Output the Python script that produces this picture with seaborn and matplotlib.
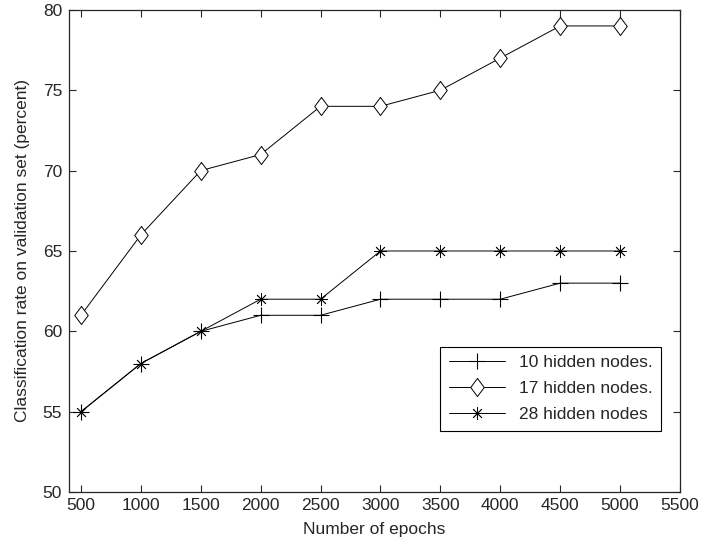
import matplotlib
matplotlib.use("Agg")
import matplotlib.pyplot as plt
import seaborn as sns
import pandas as pd

# Data
epochs = [500, 1000, 1500, 2000, 2500, 3000, 3500, 4000, 4500, 5000]
nodes_10 = [55, 58, 60, 61, 61, 62, 62, 62, 63, 63]
nodes_17 = [61, 66, 70, 71, 74, 74, 75, 77, 79, 79]
nodes_28 = [55, 58, 60, 62, 62, 65, 65, 65, 65, 65]
labels = ["10 hidden nodes.", "17 hidden nodes.", "28 hidden nodes"]
x_ticks = [500, 1000, 1500, 2000, 2500, 3000, 3500, 4000, 4500, 5000, 5500]
y_ticks = [50, 55, 60, 65, 70, 75, 80]

sns.set_style("ticks")
plt.rcParams['font.family'] = ['Liberation Sans', 'DejaVu Sans']
plt.rcParams['xtick.direction'] = 'in'
plt.rcParams['ytick.direction'] = 'in'

df = pd.DataFrame({
    "epochs": epochs * 3,
    "rate": nodes_10 + nodes_17 + nodes_28,
    "series": [labels[0]] * 10 + [labels[1]] * 10 + [labels[2]] * 10,
})

fig, ax = plt.subplots(figsize=(7.01, 5.48), dpi=100)
fig.subplots_adjust(left=0.0984, right=0.970, top=0.982, bottom=0.102)

# matlab-like tall diamond
diamond = [(0, 1), (0.75, 0), (0, -1), (-0.75, 0), (0, 1)]
marker_styles = {
    labels[0]: dict(marker="+", markersize=11, mew=0.8),
    labels[1]: dict(marker=diamond, markersize=13, mew=0.7, mfc="white"),
    labels[2]: dict(marker=(8, 2, 0), markersize=9, mew=0.6),
}

for name in labels:
    sub = df[df["series"] == name]
    sns.lineplot(data=sub, x="epochs", y="rate", ax=ax, color="black",
                 linewidth=0.7, mec="black", label=name, **marker_styles[name])

fs = 12.5
ax.set_xlim(400, 5500)
ax.set_ylim(50, 80)
ax.set_xticks(x_ticks)
ax.set_yticks(y_ticks)
ax.tick_params(axis="both", labelsize=fs, length=5, width=0.8, top=True, right=True,
               labeltop=False, labelright=False)
ax.tick_params(axis="x", pad=4)
ax.tick_params(axis="y", pad=5)
for s in ax.spines.values():
    s.set_linewidth(0.9)
ax.set_xlabel("Number of epochs", fontsize=fs, labelpad=7)
ax.set_ylabel("Classification rate on validation set (percent)", fontsize=fs, labelpad=9)

leg = ax.legend(loc="lower right", bbox_to_anchor=(0.969, 0.127), fontsize=fs,
                frameon=True, fancybox=False, edgecolor="black", framealpha=1,
                borderaxespad=0, handlelength=3.2, borderpad=0.5,
                labelspacing=0.62, handletextpad=0.8)
leg.get_frame().set_linewidth(0.8)

fig.savefig("out.png", dpi=100)
